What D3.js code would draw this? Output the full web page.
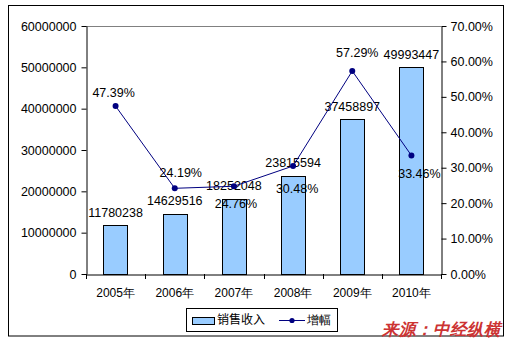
<!DOCTYPE html>
<html><head><meta charset="utf-8">
<script src="https://cdn.jsdelivr.net/npm/d3@7"></script>
<style>
html,body{margin:0;padding:0;background:#fff;}
svg{display:block;}
text{font-family:"Liberation Sans",Arial,sans-serif;}
.cjk{font-family:"Liberation Sans","Noto Sans CJK SC",sans-serif;}
</style></head>
<body>
<svg id="chart" width="509" height="342"></svg>
<script>
const categories = ["2005年","2006年","2007年","2008年","2009年","2010年"];
const revenue = [11780238,14629516,18252048,23815594,37458897,49993447];
const growth = [47.39,24.19,24.76,30.48,57.29,33.46];
const leftTicks = [0,10000000,20000000,30000000,40000000,50000000,60000000];
const rightTicks = [0,10,20,30,40,50,60,70];
const seriesNames = ["销售收入","增幅"];
const sourceText = "来源：中经纵横";
// label offsets (layout only) relative to each line point: [dx, dy of text center]
const growthLabelOffsets = [[-2,-13],[6,-16],[2,17],[4,23],[5,-18],[8,18]];

const svg = d3.select("#chart");
const L = 86, R = 441, T = 26, B = 274;

const x = d3.scaleBand().domain(categories).range([L, R]).padding(0);
const yL = d3.scaleLinear().domain([0, 60000000]).range([B, T]);
const yR = d3.scaleLinear().domain([0, 70]).range([B, T]);
const barW = x.bandwidth() * 0.41;
const cx = c => x(c) + x.bandwidth() / 2;

// outer frame
svg.append("rect").attr("x", 8.5).attr("y", 5.5).attr("width", 495).attr("height", 330.5)
  .attr("fill", "#fff").attr("stroke", "#000").attr("stroke-width", 1);

// plot area top border (gray)
svg.append("line").attr("x1", L).attr("x2", R).attr("y1", T + 0.5).attr("y2", T + 0.5)
  .attr("stroke", "#808080").attr("stroke-width", 1);

// bars
svg.append("g").selectAll("rect").data(revenue).join("rect")
  .attr("x", (d, i) => Math.round(cx(categories[i]) - barW / 2) + 0.5)
  .attr("y", d => Math.round(yL(d)) + 0.5)
  .attr("width", Math.round(barW))
  .attr("height", d => B - Math.round(yL(d)))
  .attr("fill", "#99CCFF").attr("stroke", "#000").attr("stroke-width", 1);

// left axis
const axL = svg.append("g").attr("transform", `translate(${L + 0.5},0)`)
  .call(d3.axisLeft(yL).tickValues(leftTicks).tickSize(5).tickSizeOuter(0).tickPadding(5).tickFormat(d3.format("d")));
// right axis
const axR = svg.append("g").attr("transform", `translate(${R + 0.5},0)`)
  .call(d3.axisRight(yR).tickValues(rightTicks).tickSize(5).tickSizeOuter(0).tickPadding(4).tickFormat(d => d.toFixed(2) + "%"));
// bottom axis
const axB = svg.append("g").attr("transform", `translate(0,${B + 0.5})`)
  .call(d3.axisBottom(x).tickSize(0).tickSizeOuter(0).tickPadding(14));
// category boundary ticks
svg.append("g").selectAll("line").data(d3.range(categories.length + 1)).join("line")
  .attr("x1", i => Math.round(L + i * x.step()) + 0.5).attr("x2", i => Math.round(L + i * x.step()) + 0.5)
  .attr("y1", B).attr("y2", B + 5).attr("stroke", "#000");

[axL, axR, axB].forEach(g => {
  g.select(".domain").attr("stroke", "#000");
  g.selectAll(".tick line").attr("stroke", "#000");
  g.selectAll("text").attr("fill", "#000").attr("font-size", "12.5px")
    .attr("font-family", "'Liberation Sans','Noto Sans CJK SC',sans-serif");
});
axB.selectAll("text").attr("font-size", "12px");

// bar labels
svg.append("g").selectAll("text").data(revenue).join("text")
  .attr("x", (d, i) => cx(categories[i]))
  .attr("y", d => yL(d) - 13)
  .attr("dy", "0.35em").attr("text-anchor", "middle")
  .attr("font-size", "12.5px").attr("fill", "#000")
  .text(d => d);

// growth line
const line = d3.line().x((d, i) => cx(categories[i])).y(d => yR(d));
svg.append("path").datum(growth).attr("d", line)
  .attr("fill", "none").attr("stroke", "#000080").attr("stroke-width", 1);
svg.append("g").selectAll("circle").data(growth).join("circle")
  .attr("cx", (d, i) => cx(categories[i])).attr("cy", d => yR(d)).attr("r", 3)
  .attr("fill", "#000080");

// growth labels
svg.append("g").selectAll("text").data(growth).join("text")
  .attr("x", (d, i) => cx(categories[i]) + growthLabelOffsets[i][0])
  .attr("y", (d, i) => yR(d) + growthLabelOffsets[i][1])
  .attr("dy", "0.35em").attr("text-anchor", "middle")
  .attr("font-size", "12.5px").attr("fill", "#000")
  .text(d => d.toFixed(2) + "%");

// legend
const lg = svg.append("g");
lg.append("rect").attr("x", 186.5).attr("y", 308.5).attr("width", 151).attr("height", 23)
  .attr("fill", "#fff").attr("stroke", "#000");
lg.append("rect").attr("x", 192.5).attr("y", 317.5).attr("width", 22).attr("height", 7)
  .attr("fill", "#99CCFF").attr("stroke", "#000");
lg.append("text").attr("class", "cjk").attr("x", 217).attr("y", 320).attr("dy", "0.35em")
  .attr("font-size", "12px").attr("font-family", "'Noto Sans CJK SC',sans-serif").text(seriesNames[0]);
lg.append("line").attr("x1", 279).attr("x2", 305).attr("y1", 320.5).attr("y2", 320.5)
  .attr("stroke", "#000080");
lg.append("circle").attr("cx", 292).attr("cy", 320.5).attr("r", 2.6).attr("fill", "#000080");
lg.append("text").attr("x", 307).attr("y", 320).attr("dy", "0.35em")
  .attr("font-size", "12px").attr("font-family", "'Noto Sans CJK SC',sans-serif").text(seriesNames[1]);

// source
svg.append("text").attr("x", 501).attr("y", 335).attr("text-anchor", "end")
  .attr("font-size", "16.5px").attr("font-weight", "bold").attr("font-style", "italic")
  .attr("font-family", "'Noto Sans CJK SC',sans-serif").attr("fill", "#CC3333")
  .text(sourceText);
</script>
</body></html>
